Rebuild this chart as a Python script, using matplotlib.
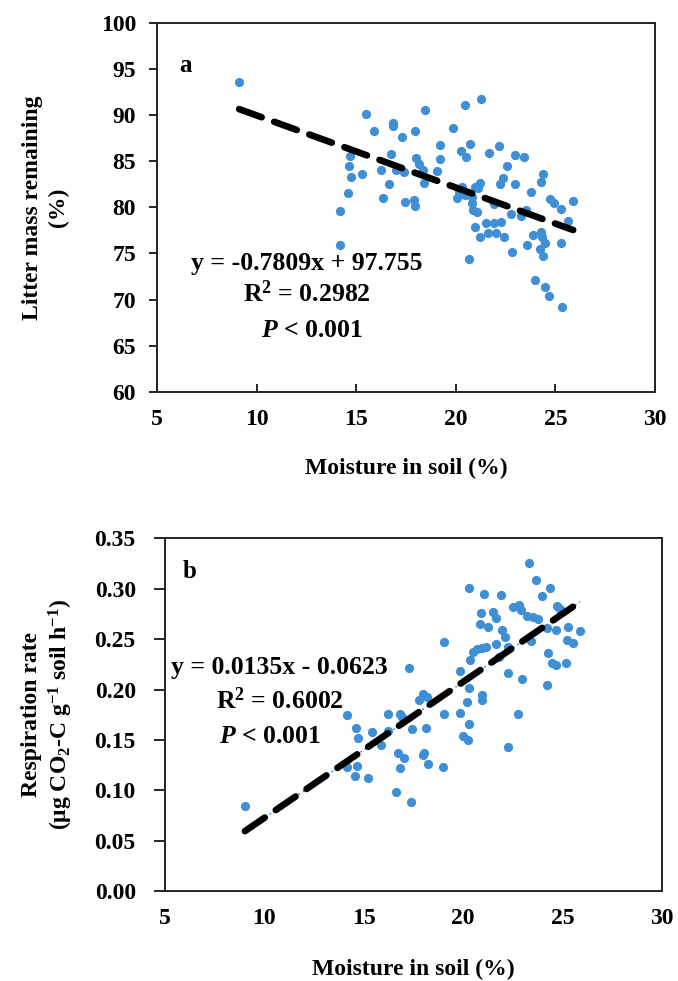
import numpy as np
import matplotlib
matplotlib.use("Agg")
import matplotlib.pyplot as plt

plt.rcParams['font.family'] = 'Liberation Serif'
plt.rcParams['font.weight'] = 'bold'
plt.rcParams['mathtext.fontset'] = 'custom'
plt.rcParams['mathtext.rm'] = 'Liberation Serif:bold'
plt.rcParams['mathtext.bf'] = 'Liberation Serif:bold'
plt.rcParams['mathtext.it'] = 'Liberation Serif:italic:bold'

# panel a: moisture (%) vs litter mass remaining (%)
moist_a = [9.12, 15.50, 15.90, 16.87, 16.87, 17.31, 17.96, 18.45, 20.44, 21.25,
           19.86, 19.19, 19.19, 19.07, 20.27, 20.49, 20.71, 21.68, 22.17, 22.99,
           23.40, 22.56, 22.38, 22.23, 22.97, 24.37, 24.27, 23.77, 24.72, 24.95,
           25.27, 25.89, 25.61, 25.29, 23.50, 23.26, 22.77, 21.93, 21.53, 21.90,
           22.29, 20.98, 21.62, 22.00, 21.20, 22.40, 22.84, 23.59, 23.88, 24.30,
           24.35, 24.47, 24.22, 24.37, 20.64, 24.00, 24.47, 24.69, 25.34, 20.32,
           20.16, 20.06, 20.44, 20.94, 21.11, 20.83, 20.86, 21.08, 20.80, 14.69,
           14.62, 14.76, 14.57, 14.21, 14.21, 15.30, 16.22, 16.77, 16.67, 16.34,
           17.01, 17.42, 17.47, 17.88, 17.96, 18.01, 18.14, 18.35, 18.38, 21.20]
mass_a = [93.59, 90.14, 88.30, 89.13, 88.84, 87.57, 88.30, 90.51, 91.12, 91.67,
          88.62, 86.74, 85.25, 83.95, 86.05, 85.40, 86.85, 85.87, 86.59, 85.69,
          85.43, 84.49, 83.22, 82.54, 82.54, 83.59, 82.72, 81.63, 80.87, 80.51,
          79.78, 80.72, 78.51, 76.16, 79.71, 79.06, 79.28, 80.33, 78.33, 78.33,
          78.44, 77.90, 77.25, 77.25, 76.81, 76.81, 75.18, 75.91, 77.00, 77.36,
          76.81, 76.16, 75.43, 74.71, 74.35, 72.10, 71.38, 70.36, 69.20, 82.25,
          81.70, 80.98, 81.34, 82.25, 82.07, 80.43, 79.71, 79.53, 81.16, 85.51,
          84.49, 83.33, 81.52, 79.64, 75.91, 83.62, 84.06, 85.80, 82.50, 80.98,
          83.99, 83.77, 80.62, 80.80, 80.14, 85.33, 84.71, 84.06, 82.68, 82.61]
slope_a, icpt_a = -0.7809, 97.755

# panel b: moisture (%) vs respiration rate
moist_b = [9.02, 14.17, 14.61, 14.73, 14.17, 14.67, 14.56, 15.19, 15.43, 15.85,
           16.20, 16.23, 16.82, 16.92, 16.74, 17.02, 16.82, 16.62, 17.37, 17.27,
           17.41, 17.79, 17.96, 18.19, 18.13, 18.03, 17.96, 18.25, 19.00, 19.05,
           19.05, 19.84, 20.31, 20.17, 19.84, 20.29, 20.01, 20.23, 20.93, 20.93,
           20.34, 20.51, 20.68, 20.93, 21.15, 20.85, 21.23, 20.88, 21.48, 21.65,
           20.31, 21.05, 21.90, 21.94, 22.10, 21.65, 21.82, 22.27, 22.97, 22.74,
           22.24, 22.49, 22.81, 22.91, 23.19, 23.53, 23.78, 23.33, 23.65, 23.95,
           24.37, 23.41, 24.20, 24.67, 24.28, 24.45, 24.67, 25.17, 24.20, 24.70,
           24.87, 25.29, 25.24, 25.54, 25.88, 22.27]
resp_b = [0.0841, 0.1751, 0.1618, 0.1518, 0.1229, 0.1239, 0.1140, 0.1123, 0.1578, 0.1445,
          0.1588, 0.1761, 0.1761, 0.1728, 0.1369, 0.1319, 0.1219, 0.0980, 0.0880, 0.2216,
          0.1611, 0.1900, 0.1953, 0.1927, 0.1618, 0.1369, 0.1346, 0.1262, 0.1229, 0.1754,
          0.2475, 0.2186, 0.2020, 0.1877, 0.1767, 0.1661, 0.1535, 0.1495, 0.1944, 0.1894,
          0.2292, 0.2375, 0.2399, 0.2409, 0.2419, 0.2648, 0.2625, 0.2757, 0.2774, 0.2708,
          0.3013, 0.2950, 0.2940, 0.2591, 0.2525, 0.2452, 0.2326, 0.2166, 0.2103, 0.1761,
          0.1425, 0.2824, 0.2841, 0.2791, 0.2734, 0.2718, 0.2698, 0.3256, 0.3083, 0.2930,
          0.3013, 0.2485, 0.2608, 0.2591, 0.2359, 0.2266, 0.2243, 0.2259, 0.2043, 0.2831,
          0.2797, 0.2625, 0.2492, 0.2458, 0.2585, 0.2425]
slope_b, icpt_b = 0.0135, -0.0623

dot = '#3f8fd6'
fs = 17
fs_eq = 18.5

fig = plt.figure(figsize=(6.78, 9.81), dpi=100)
ax1 = fig.add_axes([0.2316, 0.6004, 0.7345, 0.3766])
ax2 = fig.add_axes([0.2434, 0.0917, 0.7330, 0.3594])

for ax in (ax1, ax2):
    for s in ax.spines.values():
        s.set_linewidth(1.4)
        s.set_color('#222222')

# ---- panel a
ax1.scatter(moist_a, mass_a, s=44, color=dot, zorder=2, linewidths=0)
xl = np.array([min(moist_a), max(moist_a)])
ax1.plot(xl, slope_a * xl + icpt_a, color='black', lw=4.8, ls=(0, (3.6, 2.0)),
         dash_capstyle='round', zorder=3)
ax1.set_xlim(5, 30)
ax1.set_ylim(60, 100)
ax1.set_xticks(range(5, 31, 5))
ax1.set_yticks(range(60, 101, 5))
ax1.tick_params(axis='x', direction='in', length=6, width=1.2, pad=12, labelsize=fs)
ax1.tick_params(axis='y', direction='out', length=6, width=1.2, pad=9, labelsize=fs)
ax1.set_xlabel('Moisture in soil (%)', fontsize=fs, fontweight='bold', labelpad=20)
ax1.set_ylabel('Litter mass remaining\n(%)', fontsize=fs, fontweight='bold', labelpad=23,
               linespacing=1.3)
ax1.text(0.044, 0.867, 'a', transform=ax1.transAxes, fontsize=18, fontweight='bold')
ax1.text(12.54, 73.9, 'y = -0.7809x + 97.755', fontsize=fs_eq, ha='center', va='center')
ax1.text(12.54, 70.6, r'R$^\mathbf{2}$ = 0.2982', fontsize=fs_eq, ha='center', va='center')
ax1.text(12.8, 66.7, r'$\mathit{P}$ < 0.001', fontsize=fs_eq, ha='center', va='center')

# ---- panel b
xl = np.array([min(moist_b), max(moist_b)])
ax2.plot(xl, slope_b * xl + icpt_b, color=dot, lw=1.2, ls=(0, (1, 2)), zorder=1)
ax2.scatter(moist_b, resp_b, s=44, color=dot, zorder=2, linewidths=0)
ax2.plot(xl, slope_b * xl + icpt_b, color='black', lw=4.8, ls=(0, (3.6, 2.0)),
         dash_capstyle='round', zorder=3)
ax2.set_xlim(5, 30)
ax2.set_ylim(0, 0.35)
ax2.set_xticks(range(5, 31, 5))
ax2.set_yticks(np.arange(0, 0.351, 0.05))
ax2.yaxis.set_major_formatter(matplotlib.ticker.FormatStrFormatter('%.2f'))
ax2.tick_params(axis='x', direction='in', length=0, pad=12, labelsize=fs)
ax2.tick_params(axis='y', direction='out', length=8, width=1.2, pad=13, labelsize=fs)
ax2.set_xlabel('Moisture in soil (%)', fontsize=fs, fontweight='bold', labelpad=22)
ax2.set_ylabel('Respiration rate\n' + r'(μg CO$_\mathbf{2}$-C g$^\mathbf{-1}$ soil h$^\mathbf{-1}$)',
               fontsize=fs, fontweight='bold', labelpad=14, linespacing=1.25)
ax2.text(0.036, 0.888, 'b', transform=ax2.transAxes, fontsize=18, fontweight='bold')
ax2.text(10.77, 0.2215, 'y = 0.0135x - 0.0623', fontsize=fs_eq, ha='center', va='center')
ax2.text(10.77, 0.1895, r'R$^\mathbf{2}$ = 0.6002', fontsize=fs_eq, ha='center', va='center')
ax2.text(7.7, 0.1530, r'$\mathit{P}$ < 0.001', fontsize=fs_eq, ha='left', va='center')

fig.savefig('out.png', dpi=100)
